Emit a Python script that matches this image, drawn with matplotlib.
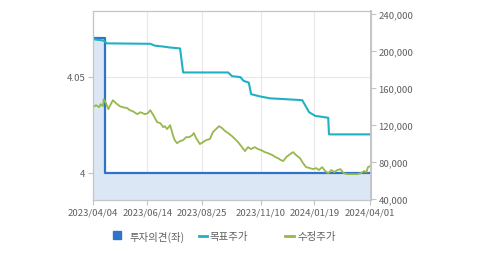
import datetime as dt
import matplotlib
matplotlib.use("Agg")
import matplotlib.pyplot as plt
from matplotlib.lines import Line2D
from matplotlib.patches import Rectangle

plt.rcParams['font.family'] = ['Noto Sans CJK KR', 'DejaVu Sans']

base = dt.date(2023, 4, 4)

# investment opinion (left axis)
op_days = [0, 16, 364]
op_vals = [4.07, 4.0, 4.0]

# target price (right axis)
tp_days = [0, 14, 18, 75, 81, 92, 101, 114, 118, 177, 182, 193, 197, 204, 207,
           219, 232, 254, 274, 283, 291, 308, 309, 364]
tp_vals = [213000, 211500, 208500, 208000, 206000, 205000, 204000, 203000, 177000,
           177000, 173000, 172000, 168000, 166000, 153500, 151000, 149000, 148000,
           147000, 134000, 130000, 128000, 110000, 110000]

# adjusted price (right axis)
px_days = [0, 4, 8, 10, 13, 14, 17, 20, 22, 26, 30, 35, 39, 45, 48, 52, 58, 62, 68,
           72, 75, 79, 84, 88, 92, 94, 97, 101, 105, 107, 110, 114, 118, 122, 126,
           130, 132, 135, 140, 144, 148, 153, 157, 161, 165, 169, 173, 177, 182,
           186, 190, 194, 199, 203, 207, 212, 216, 220, 225, 229, 235, 239, 242,
           246, 249, 253, 258, 262, 266, 271, 275, 279, 284, 288, 292, 296, 300,
           304, 308, 312, 316, 320, 324, 328, 333, 339, 346, 351, 355, 358, 360, 363]
px_vals = [139400, 141600, 139400, 142700, 140500, 148100, 143800, 137300, 140500,
           147000, 143800, 140500, 139400, 138400, 136200, 135100, 131900, 134000,
           131900, 133000, 136200, 130800, 123200, 122200, 117800, 118900, 115700,
           120000, 108100, 103800, 100500, 102700, 103800, 107000, 107000, 109200,
           111400, 106000, 99500, 101600, 103800, 104900, 112400, 115700, 118900,
           116800, 113500, 111400, 108100, 104900, 101600, 97300, 91900, 96200,
           94100, 96200, 94100, 93000, 90800, 89700, 87600, 85400, 84300, 82200,
           81100, 85400, 88600, 90800, 87600, 84300, 78900, 74600, 73500, 72400,
           73500, 71400, 74600, 70300, 68100, 71400, 69200, 71400, 72400, 68100,
           67000, 67000, 67000, 68100, 70300, 69200, 74600, 75700]

tick_dates = ['2023/04/04', '2023/06/14', '2023/08/25', '2023/11/10',
              '2024/01/19', '2024/04/01']

def to_dates(days):
    return [base + dt.timedelta(days=d) for d in days]

blue = '#2f74c8'
teal = '#22b0c4'
green = '#96b84c'
grey = '#606060'

fig = plt.figure(figsize=(4.79, 2.55), dpi=100)
ax = fig.add_axes([93 / 479, 1 - 201 / 255, 278 / 479, 189 / 255])
ax2 = ax.twinx()

d_op = to_dates(op_days)
ax.fill_between(d_op, op_vals, 3.986, step='post', color='#dce7f6', lw=0)
ax.step(d_op, op_vals, where='post', color=blue, lw=1.6)
ax.set_ylim(3.986, 4.084)
ax.set_yticks([4, 4.05])
ax.set_yticklabels(['4', '4.05'])

ax2.plot(to_dates(tp_days), tp_vals, color=teal, lw=1.5)
ax2.plot(to_dates(px_days), px_vals, color=green, lw=1.3)
ax2.set_ylim(39000, 243500)
ax2.set_yticks([40000, 80000, 120000, 160000, 200000, 240000])
ax2.set_yticklabels(['40,000', '80,000', '120,000', '160,000', '200,000', '240,000'])

ticks = [dt.datetime.strptime(t, '%Y/%m/%d').date() for t in tick_dates]
ax.set_xlim(base, base + dt.timedelta(days=364))
ax.set_xticks(ticks)
ax.set_xticklabels(tick_dates)

ax.grid(True, color='#e8e8e8', lw=0.8)
ax.set_axisbelow(True)

for a in (ax, ax2):
    for s in a.spines.values():
        s.set_color('#c4c4c4')
    a.tick_params(labelsize=6.9, colors='#c4c4c4', labelcolor=grey, length=3.5, width=0.8, pad=2)
ax2.spines['right'].set_linewidth(1.3)

# legend
fig.add_artist(Rectangle((113 / 479, 1 - 240 / 255), 8 / 479, 8 / 255,
                         transform=fig.transFigure, color=blue))
fig.text(130 / 479, 1 - 237 / 255, '투자의견(좌)', fontsize=7.5, color=grey, va='center')
fig.add_artist(Line2D([199 / 479, 207 / 479], [1 - 237 / 255] * 2,
                      transform=fig.transFigure, color=teal, lw=2))
fig.text(210 / 479, 1 - 237 / 255, '목표주가', fontsize=7.5, color=grey, va='center')
fig.add_artist(Line2D([285 / 479, 294 / 479], [1 - 237 / 255] * 2,
                      transform=fig.transFigure, color=green, lw=2))
fig.text(297 / 479, 1 - 237 / 255, '수정주가', fontsize=7.5, color=grey, va='center')

fig.savefig('out.png', dpi=100)
